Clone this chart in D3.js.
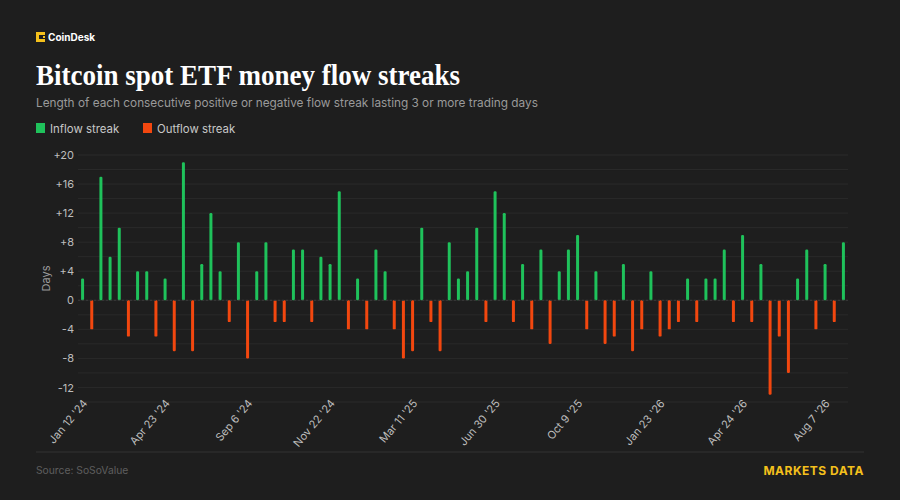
<!DOCTYPE html>
<html>
<head>
<meta charset="utf-8">
<script src="https://cdn.jsdelivr.net/npm/d3@7"></script>
<style>
  html, body { margin: 0; padding: 0; background: #1e1e1e; }
  svg { display: block; }
</style>
</head>
<body>
<div id="chart"></div>
<script>
// one value per streak, positive = inflow days, negative = outflow days
var streaks = [
  3, -4, 17, 6, 10, -5, 4, 4, -5, 3,
  -7, 19, -7, 5, 12, 4, -3, 8, -8, 4,
  8, -3, -3, 7, 7, -3, 6, 5, 15, -4,
  3, -4, 7, 4, -4, -8, -7, 10, -3, -7,
  8, 3, 4, 10, -3, 15, 12, -3, 5, -4,
  7, -6, 4, 7, 9, -4, 4, -6, -5, 5,
  -7, -4, 4, -5, -4, -3, 3, -3, 3, 3,
  7, -3, 9, -3, 5, -13, -5, -10, 3, 7,
  -4, 5, -3, 8
];
var categories = d3.range(streaks.length);   // streak index

// date labels shown every 9th streak
var tickLabels = ["Jan 12 '24", "Apr 23 '24", "Sep 6 '24", "Nov 22 '24", "Mar 11 '25",
                  "Jun 30 '25", "Oct 9 '25", "Jan 23 '26", "Apr 24 '26", "Aug 7 '26"];
var tickEvery = 9;

var yTicks = [-12, -8, -4, 0, 4, 8, 12, 16, 20];

var inflowColor = "#1fc25b",
    outflowColor = "#f2470f",
    gold = "#f4c01c";

var W = 900, H = 500;
var margin = {top: 155, right: 52, bottom: 98, left: 78};

var svg = d3.select("#chart").append("svg")
    .attr("width", W)
    .attr("height", H)
    .style("font-family", "Inter, 'Noto Sans', sans-serif");

svg.append("rect").attr("width", W).attr("height", H).attr("fill", "#1e1e1e");

// ---- header ----
var logo = svg.append("g").attr("transform", "translate(36,32)");
logo.append("path")
    .attr("d", "M0,0 h9 v3 h-6 v4 h6 v3 h-9 z")
    .attr("fill", gold);
logo.append("rect").attr("x", 7).attr("y", 4).attr("width", 2).attr("height", 2).attr("fill", gold);
svg.append("text")
    .attr("x", 48).attr("y", 41)
    .attr("fill", "#fff")
    .style("font-size", "10px")
    .style("font-weight", 700)
    .text("CoinDesk");

svg.append("text")
    .attr("x", 36).attr("y", 85)
    .attr("fill", "#fff")
    .attr("textLength", 424)
    .attr("lengthAdjust", "spacingAndGlyphs")
    .style("font-family", "'Liberation Serif', 'DejaVu Serif', serif")
    .style("font-size", "30px")
    .style("font-weight", 700)
    .text("Bitcoin spot ETF money flow streaks");

svg.append("text")
    .attr("x", 36).attr("y", 107)
    .attr("fill", "#9a9a9a")
    .style("font-size", "11.8px")
    .text("Length of each consecutive positive or negative flow streak lasting 3 or more trading days");

// legend
var legend = [
  {label: "Inflow streak", color: inflowColor, x: 36},
  {label: "Outflow streak", color: outflowColor, x: 143}
];
var lg = svg.selectAll(".lg").data(legend).enter().append("g")
    .attr("transform", function(d) { return "translate(" + d.x + ",123)"; });
lg.append("rect").attr("width", 9).attr("height", 10).attr("fill", function(d) { return d.color; });
lg.append("text")
    .attr("x", 14).attr("y", 9.5)
    .attr("fill", "#c8c8c8")
    .style("font-size", "11.4px")
    .text(function(d) { return d.label; });

// ---- chart ----
var x = d3.scaleBand()
    .domain(categories)
    .range([margin.left, W - margin.right]);

var y = d3.scaleLinear()
    .domain([-14, 20])
    .range([H - margin.bottom, margin.top]);

// gridlines every 2 days
svg.append("g")
  .selectAll("line")
  .data(d3.range(-14, 21, 2))
  .enter().append("line")
    .attr("x1", margin.left).attr("x2", W - margin.right)
    .attr("y1", function(d) { return y(d); })
    .attr("y2", function(d) { return y(d); })
    .attr("stroke", "#2a2a2a")
    .attr("stroke-width", 1);

var yAxis = svg.append("g")
    .attr("transform", "translate(" + margin.left + ",0)")
    .call(d3.axisLeft(y).tickValues(yTicks).tickSize(0).tickPadding(4)
      .tickFormat(function(d) { return d > 0 ? "+" + d : d; }));
yAxis.select(".domain").remove();
yAxis.selectAll("text")
    .attr("fill", "#bdbdbd")
    .style("font-size", "11px")
    .style("font-family", "Inter, 'Noto Sans', sans-serif");

svg.append("text")
    .attr("transform", "translate(50," + y(3) + ") rotate(-90)")
    .attr("text-anchor", "middle")
    .attr("fill", "#9a9a9a")
    .style("font-size", "11px")
    .text("Days");

// bars
var bw = 3;
svg.append("g")
  .selectAll("rect")
  .data(streaks)
  .enter().append("rect")
    .attr("x", function(d, i) { return x(i) + x.bandwidth() / 2 - bw / 2; })
    .attr("y", function(d) { return y(Math.max(0, d)); })
    .attr("width", bw)
    .attr("height", function(d) { return Math.abs(y(d) - y(0)); })
    .attr("rx", 1.2)
    .attr("fill", function(d) { return d > 0 ? inflowColor : outflowColor; });

// zero line
svg.append("line")
    .attr("x1", margin.left).attr("x2", W - margin.right)
    .attr("y1", y(0)).attr("y2", y(0))
    .attr("stroke", "#3a3a3a")
    .attr("stroke-dasharray", "2,2");

// x labels
var xAxis = svg.append("g")
    .attr("transform", "translate(0," + (H - margin.bottom) + ")")
    .call(d3.axisBottom(x)
      .tickValues(categories.filter(function(i) { return i % tickEvery === 0; }))
      .tickSize(0)
      .tickFormat(function(i) { return tickLabels[i / tickEvery]; }));
xAxis.select(".domain").remove();
xAxis.selectAll("text")
    .attr("fill", "#bdbdbd")
    .style("font-size", "11px")
    .style("font-family", "Inter, 'Noto Sans', sans-serif")
    .style("text-anchor", "end")
    .attr("dx", "0.2em")
    .attr("dy", "0.2em")
    .attr("transform", "rotate(-50)");

// ---- footer ----
svg.append("line")
    .attr("x1", 36).attr("x2", 864)
    .attr("y1", 452).attr("y2", 452)
    .attr("stroke", "#2c2c2c")
    .attr("stroke-width", 1.5);

svg.append("text")
    .attr("x", 36).attr("y", 474)
    .attr("fill", "#5e5e5e")
    .style("font-size", "10.3px")
    .text("Source: SoSoValue");

svg.append("text")
    .attr("x", 864).attr("y", 475)
    .attr("text-anchor", "end")
    .attr("fill", gold)
    .style("font-size", "12px")
    .style("font-weight", 700)
    .style("letter-spacing", "0.5px")
    .text("MARKETS DATA");
</script>
</body>
</html>
